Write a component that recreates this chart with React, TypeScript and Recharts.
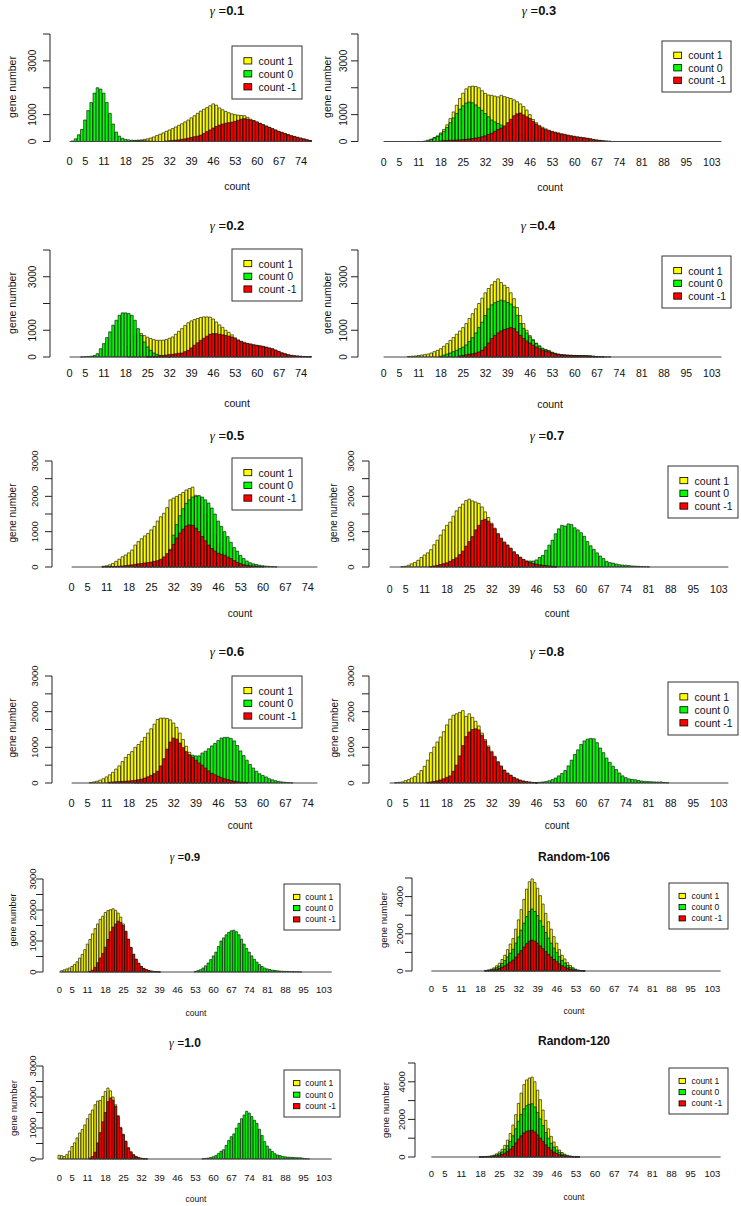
import React from 'react';
import { BarChart, Bar, XAxis, YAxis, ReferenceLine } from 'recharts';

// values read per count bin (index = count); missing tail bins are zero
const g01Yellow = [0,0,0,0,0,0,0,0,0,0,0,0,0,0,0,0,0,0,0,0,30,40,50,60,80,100,130,170,220,270,320,380,430,480,540,600,660,730,800,880,960,1050,1130,1200,1260,1330,1400,1350,1250,1180,1120,1070,1030,1000,980,970,960,900,830,780,730,680,630,580,530,480,430,380,340,300,260,220,190,160,130,100,70,40];
const g01Green = [0,20,100,250,450,800,1150,1450,1800,2000,1950,1800,1450,1050,650,350,200,120,80,60,50,40,40,30,30,20,15,10,5];
const g01Red = [0,0,0,0,0,0,0,0,0,0,0,0,0,0,0,0,0,0,0,0,0,0,0,0,0,0,0,0,0,0,0,20,30,40,50,60,80,100,120,150,180,200,240,300,370,430,500,560,610,650,680,700,720,750,790,830,850,830,800,770,720,670,620,570,520,470,420,370,330,290,250,210,180,150,120,90,60,35];

const g02Yellow = [0,0,0,0,0,0,0,0,0,0,0,0,0,0,0,0,0,0,0,400,600,800,900,880,800,740,690,650,625,625,630,650,700,750,850,960,1060,1180,1280,1350,1400,1440,1480,1500,1500,1490,1420,1310,1200,1110,1000,920,830,720,640,590,550,510,490,460,440,420,400,370,340,310,260,210,160,125,90,65,50,40,30,20,15,10];
const g02Green = [0,0,0,0,5,10,20,30,60,125,310,500,725,940,1190,1375,1560,1650,1650,1625,1560,1375,1060,810,560,375,250,150,100,60,40,20,10];
const g02Red = [0,0,0,0,0,0,0,0,0,0,0,0,0,0,0,0,0,0,0,0,0,0,0,0,0,10,15,20,30,40,50,70,90,100,120,140,150,200,250,340,440,530,625,700,780,850,875,870,850,830,810,780,750,690,625,570,525,500,475,450,430,410,390,360,330,300,250,200,150,115,80,60,45,35,25,18,12,8];

const g03Yellow = [0,0,0,0,0,0,0,0,0,0,0,0,0,20,50,90,150,210,320,450,620,850,1100,1350,1600,1800,1960,2040,2060,2050,2000,1890,1790,1730,1720,1690,1660,1720,1670,1640,1600,1550,1480,1400,1300,1170,1000,820,700,600,530,470,420,380,350,320,290,270,240,215,195,175,160,145,125,105,80,60,45,30,20,12];
const g03Green = [0,0,0,0,0,0,0,0,0,0,0,0,0,0,30,70,130,190,280,380,520,700,880,1040,1200,1330,1430,1470,1440,1360,1260,1160,1040,920,800,730,670,610,550,490,430,370,310,260,220,180,150,120,100,80,60,45,35,25,18,12,8];
const g03Red = [0,0,0,0,0,0,0,0,0,0,0,0,0,0,0,0,0,0,20,35,40,45,50,55,60,70,80,95,110,130,150,175,210,260,310,380,440,500,580,700,830,960,1030,1060,990,920,860,750,650,560,490,440,400,360,330,300,270,250,220,200,180,160,145,130,110,95,70,50,38,25,15,8];

const g04Yellow = [0,0,0,0,0,0,0,0,20,30,40,55,75,90,110,150,200,250,310,400,500,620,730,850,970,1100,1250,1440,1620,1800,2000,2200,2400,2560,2700,2820,2920,2780,2680,2600,2400,2180,1850,1550,1250,1000,800,650,520,420,330,280,240,180,140,110,90,80,70,65,60,55,55,52,48,42,30,20,12,8,5,5];
const g04Green = [0,0,0,0,0,0,0,0,0,0,0,0,0,0,0,0,0,0,30,70,110,150,200,250,310,370,450,580,720,900,1100,1300,1550,1800,1950,2030,2080,2125,2100,2040,1980,1875,1560,1250,1070,900,750,620,500,400,310,260,225,170,130,100,85,75,65,60,55,50,50,50,45,40,25,15,8,5];
const g04Red = [0,0,0,0,0,0,0,0,0,0,0,0,0,0,0,0,0,0,0,0,0,0,0,0,40,60,80,100,120,150,190,250,375,525,690,810,900,975,1025,1060,1100,1060,940,810,690,600,525,440,375,310,250,220,190,140,110,90,75,65,60,55,50,50,45,40,38,30,20,10];

const g05Yellow = [0,0,0,0,0,0,0,0,0,0,20,35,60,100,160,220,290,340,400,480,620,720,800,880,950,1050,1150,1300,1420,1520,1680,1900,1950,2000,2050,2110,2180,2220,2260,2030,1950,1700,1500,1300,1100,900,700,550,400,300,200,150,100,60,40,20,10];
const g05Green = [0,0,0,0,0,0,0,0,0,0,0,0,0,0,0,0,0,0,0,0,20,30,40,50,60,80,100,130,170,220,300,500,900,1200,1450,1650,1800,1900,1980,2000,2020,1980,1900,1810,1670,1500,1300,1150,1000,860,700,550,450,330,240,170,120,90,70,50,35,25,18,12,6];
const g05Red = [0,0,0,0,0,0,0,0,0,0,5,8,10,12,15,20,30,40,50,60,75,90,100,115,125,140,160,180,220,285,380,470,640,820,960,1070,1160,1190,1180,1100,1000,860,740,620,520,450,390,360,330,280,240,180,130,95,65,50,35,25,20,12,8];

const g06Yellow = [0,0,0,0,0,0,10,30,50,80,120,170,230,300,390,480,600,720,800,880,1000,1080,1170,1280,1400,1520,1650,1780,1820,1820,1810,1770,1680,1560,1400,1220,1030,860,700,560,450,350,270,200,150,110,80,55,40,25,15,10];
const g06Green = [0,0,0,0,0,0,0,0,0,0,0,0,0,0,0,0,0,0,0,0,40,60,80,100,130,160,200,250,300,360,420,480,540,600,660,720,760,790,780,760,760,840,890,960,1040,1110,1190,1260,1280,1280,1250,1180,1050,900,770,640,520,420,330,260,210,170,120,90,65,45,30,20,12,6];
const g06Red = [0,0,0,0,0,0,0,0,0,0,0,0,20,30,35,40,45,50,55,65,75,90,110,140,175,215,260,330,480,680,950,1150,1260,1230,1120,990,880,780,720,640,560,500,420,340,270,230,190,150,120,95,70,50,35,25,15,10];

const g07Yellow = [0,0,0,0,10,20,50,90,130,190,270,340,400,490,630,760,905,1050,1180,1270,1440,1590,1690,1780,1880,1920,1870,1840,1800,1700,1560,1400,1240,1100,950,820,710,625,535,435,350,280,215,165,128,98,82,62,50,40,30,20,10];
const g07Green = [0,0,0,0,0,0,0,0,0,0,0,0,0,0,0,0,0,0,0,0,0,0,0,0,0,0,0,0,0,0,0,0,0,0,0,0,20,40,60,80,100,120,140,165,170,170,200,270,330,475,620,760,940,1080,1180,1160,1220,1200,1110,1050,970,870,720,600,500,400,310,240,160,125,110,85,65,55,50,40,30,25,20,15,10,5];
const g07Red = [0,0,0,0,0,0,0,0,0,0,0,0,0,15,30,45,70,95,120,160,210,260,350,450,590,720,860,1050,1180,1320,1350,1300,1210,1080,930,800,690,610,520,420,340,270,210,160,125,95,80,60,50,40,30,20,10];

const g08Yellow = [0,0,10,20,30,65,95,140,185,260,350,470,640,850,1010,1150,1290,1440,1630,1790,1900,1940,1980,2030,1870,1940,1840,1730,1600,1400,1220,1040,890,750,600,480,365,280,220,160,115,80,55,38,26,16,9];
const g08Green = [0,0,0,0,0,0,0,0,0,0,0,0,0,0,0,0,0,0,0,0,0,0,0,0,0,0,0,0,0,0,0,0,0,0,0,0,0,0,0,0,0,0,0,0,0,0,10,20,30,40,65,95,140,200,270,350,480,640,800,930,1080,1180,1230,1250,1240,1130,980,850,700,580,470,375,280,200,150,115,100,90,70,55,45,40,35,30,28,30,15,8];
const g08Red = [0,0,0,0,0,0,0,0,0,0,0,0,20,30,40,60,85,120,160,200,330,500,760,1050,1300,1430,1500,1520,1490,1340,1180,1000,860,730,580,460,350,270,210,150,110,75,50,35,25,15,8];

const g09Yellow = [0,40,70,100,130,180,240,330,450,570,720,900,1050,1230,1400,1550,1700,1800,1920,1980,2010,2040,1990,1900,1770,1550,1320,1060,795,575,412,282,182,116,76,46,29,18,10,5];
const g09Green = [0,0,0,0,0,0,0,0,0,0,0,0,0,0,0,0,0,0,0,0,0,0,0,0,0,0,0,0,0,0,0,0,0,0,0,0,0,0,0,0,0,0,0,0,0,0,0,0,0,0,0,0,0,20,45,75,130,200,290,400,520,640,820,1000,1100,1200,1280,1330,1350,1300,1200,1060,900,760,640,520,410,320,240,180,130,100,80,60,50,40,30,25,20,18,15,12,10,8,5];
const g09Red = [0,0,0,0,0,0,0,0,0,0,0,0,20,60,150,300,450,600,800,1050,1300,1450,1550,1640,1600,1500,1300,1050,790,570,410,280,180,115,75,45,28,18,10,5];

const g10Yellow = [120,110,80,140,250,400,520,680,840,950,1100,1300,1450,1580,1750,1870,1890,2020,2180,2290,2200,2000,1750,1400,1020,800,580,370,235,145,82,46,26,12,6];
const g10Green = [0,0,0,0,0,0,0,0,0,0,0,0,0,0,0,0,0,0,0,0,0,0,0,0,0,0,0,0,0,0,0,0,0,0,0,0,0,0,0,0,0,0,0,0,0,0,0,0,0,0,0,0,0,0,0,0,10,20,30,50,75,110,180,250,300,440,600,720,810,1000,1150,1300,1420,1540,1480,1370,1250,1150,960,760,560,420,320,240,170,130,110,85,70,60,55,50,45,40,40,25,10,5];
const g10Red = [0,0,0,0,0,0,0,0,0,0,0,0,30,80,220,520,850,1200,1500,1850,1970,1900,1700,1370,1000,780,560,350,220,130,75,40,20,10,5];

const r106Yellow = [0,0,0,0,0,0,0,0,0,0,0,0,0,0,0,0,0,0,0,0,30,60,100,170,280,420,620,850,1150,1450,1750,2250,2750,3300,3850,4400,4800,4950,4750,4450,4050,3600,3100,2650,2250,1850,1500,1150,850,650,450,300,180,100,50,25,10];
const r106Green = [0,0,0,0,0,0,0,0,0,0,0,0,0,0,0,0,0,0,0,0,20,40,65,110,180,270,400,560,760,960,1170,1500,1830,2200,2570,2930,3200,3330,3200,2980,2700,2400,2070,1770,1500,1230,1000,770,570,430,300,200,120,65,33,16,6];
const r106Red = [0,0,0,0,0,0,0,0,0,0,0,0,0,0,0,0,0,0,0,0,10,20,33,55,90,135,200,280,380,480,590,750,920,1100,1290,1470,1600,1660,1600,1490,1350,1200,1040,890,750,620,500,385,285,215,150,100,60,33,17,8,3];

const r120Yellow = [0,0,0,0,0,0,0,0,0,0,0,0,0,0,0,0,0,0,10,15,25,40,60,100,170,270,410,620,900,1250,1700,2250,2850,3400,3850,4100,4200,4250,4000,3550,3050,2500,1950,1500,1100,800,550,370,240,150,90,55,30,15,8];
const r120Green = [0,0,0,0,0,0,0,0,0,0,0,0,0,0,0,0,0,0,5,10,16,26,40,66,110,180,270,410,600,830,1130,1500,1900,2270,2560,2730,2800,2830,2660,2370,2030,1670,1300,1000,730,530,370,250,160,100,60,36,20,10,5];
const r120Red = [0,0,0,0,0,0,0,0,0,0,0,0,0,0,0,0,0,0,2,5,8,13,20,33,55,90,135,205,300,415,565,750,950,1130,1280,1370,1400,1420,1330,1180,1010,830,650,500,365,265,185,125,80,50,30,18,10,5,3];

const xLabelsShort = [0, 5, 11, 18, 25, 32, 39, 46, 53, 60, 67, 74];
const xLabelsLong = [0, 5, 11, 18, 25, 32, 39, 46, 53, 60, 67, 74, 81, 88, 95, 103];
const yTicks4000 = [0, 1000, 2000, 3000, 4000];
const yLabels4000 = [0, 1000, 3000];
const yTicks3000 = [0, 500, 1000, 1500, 2000, 2500, 3000];
const yLabels3000 = [0, 1000, 2000, 3000];
const yTicks5000 = [0, 1000, 2000, 3000, 4000, 5000];
const yLabels5000 = [0, 2000, 4000];
const legendNames = ['count 1', 'count 0', 'count -1'];

const FONT = 'Liberation Sans, Arial, sans-serif';
const YELLOW = '#ffff00';
const GREEN = '#00ff00';
const RED = '#ff0000';

interface PanelSpec {
  gamma?: string;
  title?: string;
  yellow: number[];
  green: number[];
  red: number[];
  n: number;
  yMax: number;
  yTicks: number[];
  yLabels: number[];
  xLabels: number[];
  ax: number; x0: number; x1: number; yTop: number; base: number; labelY: number;
  xfs: number; yfs: number; yOff: number;
  titleX: number; titleY: number; titleFs: number;
  countX: number; countY: number; countFs: number;
  geneX: number; geneY: number; geneFs: number;
  leg: [number, number, number, number]; legFs: number;
}

const panels: PanelSpec[] = [
  { gamma: '0.1', yellow: g01Yellow, green: g01Green, red: g01Red, n: 78, yMax: 4000, yTicks: yTicks4000, yLabels: yLabels4000, xLabels: xLabelsShort,
    ax: 50, x0: 68, x1: 312, yTop: 33.5, base: 141, labelY: 161, xfs: 11, yfs: 10, yOff: 18,
    titleX: 227, titleY: 10, titleFs: 13, countX: 237, countY: 186, countFs: 10.5, geneX: 12, geneY: 87, geneFs: 10.5, leg: [232, 46, 70, 53], legFs: 10.5 },
  { gamma: '0.3', yellow: g03Yellow, green: g03Green, red: g03Red, n: 107, yMax: 4000, yTicks: yTicks4000, yLabels: yLabels4000, xLabels: xLabelsLong,
    ax: 358, x0: 382, x1: 723, yTop: 33.5, base: 141, labelY: 162, xfs: 10.5, yfs: 10, yOff: 15,
    titleX: 539, titleY: 10, titleFs: 13, countX: 550, countY: 187, countFs: 10.5, geneX: 327, geneY: 87, geneFs: 10.5, leg: [662, 41, 69, 51], legFs: 10.5 },
  { gamma: '0.2', yellow: g02Yellow, green: g02Green, red: g02Red, n: 78, yMax: 4000, yTicks: yTicks4000, yLabels: yLabels4000, xLabels: xLabelsShort,
    ax: 50, x0: 68, x1: 312, yTop: 250, base: 357, labelY: 373, xfs: 11, yfs: 10, yOff: 18,
    titleX: 227, titleY: 225, titleFs: 13, countX: 237, countY: 403, countFs: 10.5, geneX: 12, geneY: 303, geneFs: 10.5, leg: [232, 249, 70, 52], legFs: 10.5 },
  { gamma: '0.4', yellow: g04Yellow, green: g04Green, red: g04Red, n: 107, yMax: 4000, yTicks: yTicks4000, yLabels: yLabels4000, xLabels: xLabelsLong,
    ax: 358, x0: 382, x1: 723, yTop: 250, base: 357, labelY: 373, xfs: 10.5, yfs: 10, yOff: 15,
    titleX: 538, titleY: 225, titleFs: 13, countX: 550, countY: 404, countFs: 10.5, geneX: 327, geneY: 303, geneFs: 10.5, leg: [662, 256, 69, 52], legFs: 10.5 },
  { gamma: '0.5', yellow: g05Yellow, green: g05Green, red: g05Red, n: 78, yMax: 3000, yTicks: yTicks3000, yLabels: yLabels3000, xLabels: xLabelsShort,
    ax: 52, x0: 70, x1: 319, yTop: 461, base: 567, labelY: 587, xfs: 11, yfs: 9.5, yOff: 17,
    titleX: 227, titleY: 435, titleFs: 13, countX: 240, countY: 613, countFs: 10, geneX: 12, geneY: 513, geneFs: 10, leg: [232, 458, 70, 52], legFs: 10.5 },
  { gamma: '0.7', yellow: g07Yellow, green: g07Green, red: g07Red, n: 107, yMax: 3000, yTicks: yTicks3000, yLabels: yLabels3000, xLabels: xLabelsLong,
    ax: 369, x0: 388, x1: 730, yTop: 461, base: 567, labelY: 589, xfs: 10.5, yfs: 9.5, yOff: 18,
    titleX: 547, titleY: 435, titleFs: 13, countX: 557, countY: 613, countFs: 10, geneX: 333, geneY: 513, geneFs: 10, leg: [668, 466, 70, 52], legFs: 10.5 },
  { gamma: '0.6', yellow: g06Yellow, green: g06Green, red: g06Red, n: 78, yMax: 3000, yTicks: yTicks3000, yLabels: yLabels3000, xLabels: xLabelsShort,
    ax: 52, x0: 70, x1: 319, yTop: 676, base: 783, labelY: 803, xfs: 11, yfs: 9.5, yOff: 17,
    titleX: 227, titleY: 651, titleFs: 13, countX: 240, countY: 825, countFs: 10, geneX: 12, geneY: 728, geneFs: 10, leg: [232, 676, 70, 52], legFs: 10.5 },
  { gamma: '0.8', yellow: g08Yellow, green: g08Green, red: g08Red, n: 107, yMax: 3000, yTicks: yTicks3000, yLabels: yLabels3000, xLabels: xLabelsLong,
    ax: 369, x0: 388, x1: 730, yTop: 676, base: 783, labelY: 803, xfs: 10.5, yfs: 9.5, yOff: 18,
    titleX: 547, titleY: 651, titleFs: 13, countX: 557, countY: 825, countFs: 10, geneX: 334, geneY: 728, geneFs: 10, leg: [668, 682, 70, 53], legFs: 10.5 },
  { gamma: '0.9', yellow: g09Yellow, green: g09Green, red: g09Red, n: 107, yMax: 3000, yTicks: yTicks3000, yLabels: yLabels3000, xLabels: xLabelsLong,
    ax: 43, x0: 58, x1: 333, yTop: 879, base: 972, labelY: 990, xfs: 9.5, yfs: 9.5, yOff: 10,
    titleX: 185, titleY: 857, titleFs: 11.5, countX: 196, countY: 1013, countFs: 8.5, geneX: 13, geneY: 920, geneFs: 9, leg: [284, 884, 56, 46], legFs: 8.5 },
  { title: 'Random-106', yellow: r106Yellow, green: r106Green, red: r106Red, n: 107, yMax: 5000, yTicks: yTicks5000, yLabels: yLabels5000, xLabels: xLabelsLong,
    ax: 412, x0: 430, x1: 722, yTop: 878, base: 971, labelY: 989, xfs: 9.5, yfs: 9.5, yOff: 12,
    titleX: 574, titleY: 857, titleFs: 12, countX: 574, countY: 1011, countFs: 8.5, geneX: 383, geneY: 920, geneFs: 9.5, leg: [669, 883, 59, 46], legFs: 8.5 },
  { gamma: '1.0', yellow: g10Yellow, green: g10Green, red: g10Red, n: 107, yMax: 3000, yTicks: yTicks3000, yLabels: yLabels3000, xLabels: xLabelsLong,
    ax: 43, x0: 58, x1: 333, yTop: 1066, base: 1159, labelY: 1178, xfs: 9.5, yfs: 9.5, yOff: 10,
    titleX: 185, titleY: 1043, titleFs: 12, countX: 196, countY: 1199, countFs: 8.5, geneX: 13, geneY: 1108, geneFs: 9.5, leg: [284, 1070, 56, 47], legFs: 8.5 },
  { title: 'Random-120', yellow: r120Yellow, green: r120Green, red: r120Red, n: 107, yMax: 5000, yTicks: yTicks5000, yLabels: yLabels5000, xLabels: xLabelsLong,
    ax: 415, x0: 430, x1: 722, yTop: 1063, base: 1157, labelY: 1174, xfs: 9.5, yfs: 9.5, yOff: 13,
    titleX: 574, titleY: 1041, titleFs: 12, countX: 574, countY: 1197, countFs: 8.5, geneX: 385, geneY: 1110, geneFs: 9.5, leg: [669, 1068, 59, 46], legFs: 8.5 },
];

const buildRows = (n: number, y: number[], g: number[], r: number[]) =>
  Array.from({ length: n }, (_, i) => ({ c: i, y: y[i] ?? 0, g: g[i] ?? 0, r: r[i] ?? 0 }));

const xTick = (labels: number[], fs: number) => (props: any) => {
  const { x, y, payload } = props;
  if (!labels.includes(payload.value)) return <g />;
  return (
    <text x={x} y={y} dy="0.71em" textAnchor="middle" fontSize={fs} fontFamily={FONT} fill="#111">
      {payload.value}
    </text>
  );
};

// y labels in R style: rotated, parallel to the axis
const yTick = (labels: number[], fs: number, off: number) => (props: any) => {
  const { x, y, payload } = props;
  if (!labels.includes(payload.value)) return <g />;
  const cx = x + 9 - off;
  return (
    <text x={cx} y={y} dy="0.35em" textAnchor="middle" transform={`rotate(-90 ${cx} ${y})`} fontSize={fs} fontFamily={FONT} fill="#111">
      {payload.value}
    </text>
  );
};

const Panel = ({ p }: { p: PanelSpec }) => {
  const data = buildRows(p.n, p.yellow, p.green, p.red);
  const top = 14;
  const yw = 40;
  const xh = 34;
  const left = p.ax - yw;
  const width = p.x1 - left + 2;
  const height = top + (p.base - p.yTop) + xh;
  const barSize = ((p.x1 - p.x0) / p.n) * 0.84;
  const pad = { left: p.x0 - p.ax, right: 0 };
  const tickMargin = p.labelY - 0.35 * p.xfs - p.base;
  return (
    <div style={{ position: 'absolute', left, top: p.yTop - top }}>
      <BarChart width={width} height={height} data={data} margin={{ top, right: 2, bottom: 0, left: 0 }} barSize={barSize}>
        <XAxis xAxisId="a" dataKey="c" interval={0} axisLine={false} tickLine={false} tickSize={0}
          tickMargin={tickMargin} height={xh} padding={pad} tick={xTick(p.xLabels, p.xfs)} />
        <XAxis xAxisId="g" dataKey="c" hide height={0} padding={pad} />
        <XAxis xAxisId="r" dataKey="c" hide height={0} padding={pad} />
        <YAxis domain={[0, p.yMax]} ticks={p.yTicks} interval={0} width={yw} tickSize={7} tickMargin={2}
          axisLine={{ stroke: '#222' }} tickLine={{ stroke: '#222' }} tick={yTick(p.yLabels, p.yfs, p.yOff)} />
        <Bar xAxisId="a" dataKey="y" fill={YELLOW} stroke="#000" strokeWidth={0.6} isAnimationActive={false} />
        <Bar xAxisId="g" dataKey="g" fill={GREEN} stroke="#000" strokeWidth={0.6} isAnimationActive={false} />
        <Bar xAxisId="r" dataKey="r" fill={RED} stroke="#000" strokeWidth={0.6} isAnimationActive={false} />
        <ReferenceLine xAxisId="a" segment={[{ x: 0, y: 0 }, { x: p.n - 1, y: 0 }]} stroke="#444" strokeWidth={1} />
      </BarChart>
    </div>
  );
};

const Legend = ({ p }: { p: PanelSpec }) => {
  const [lx, ly, lw, lh] = p.leg;
  const colors = [YELLOW, GREEN, RED];
  const sq = p.legFs * 0.75;
  return (
    <g>
      <rect x={lx} y={ly} width={lw} height={lh} fill="#fff" stroke="#333" strokeWidth={1} />
      {legendNames.map((name, i) => {
        const cy = ly + lh * 0.28 + i * lh * 0.245;
        return (
          <g key={name}>
            <rect x={lx + lw * 0.17} y={cy - sq * 0.4} width={sq} height={sq * 0.8} fill={colors[i]} stroke="#000" strokeWidth={0.8} />
            <text x={lx + lw * 0.38} y={cy} dominantBaseline="central" fontSize={p.legFs} fontFamily={FONT} fill="#111">{name}</text>
          </g>
        );
      })}
    </g>
  );
};

const Labels = ({ p }: { p: PanelSpec }) => (
  <g>
    {p.gamma ? (
      <text x={p.titleX} y={p.titleY} textAnchor="middle" dominantBaseline="central" fontSize={p.titleFs} fill="#111">
        <tspan fontFamily="Liberation Serif, serif" fontStyle="italic">γ</tspan>
        <tspan fontFamily={FONT}> =</tspan>
        <tspan fontFamily={FONT} fontWeight="bold">{p.gamma}</tspan>
      </text>
    ) : (
      <text x={p.titleX} y={p.titleY} textAnchor="middle" dominantBaseline="central" fontSize={p.titleFs} fontWeight="bold" fontFamily={FONT} fill="#111">
        {p.title}
      </text>
    )}
    <text x={p.countX} y={p.countY} textAnchor="middle" dominantBaseline="central" fontSize={p.countFs} fontFamily={FONT} fill="#111">count</text>
    <text x={p.geneX} y={p.geneY} textAnchor="middle" dominantBaseline="central" transform={`rotate(-90 ${p.geneX} ${p.geneY})`}
      fontSize={p.geneFs} fontFamily={FONT} fill="#111">gene number</text>
    <Legend p={p} />
  </g>
);

export default function App() {
  return (
    <div style={{ position: 'absolute', left: 0, top: 0, width: 741, height: 1206, background: '#fff', fontFamily: FONT }}>
      {panels.map((p, i) => (
        <Panel key={i} p={p} />
      ))}
      <svg width={741} height={1206} style={{ position: 'absolute', left: 0, top: 0, pointerEvents: 'none' }}>
        {panels.map((p, i) => (
          <Labels key={i} p={p} />
        ))}
      </svg>
    </div>
  );
}
